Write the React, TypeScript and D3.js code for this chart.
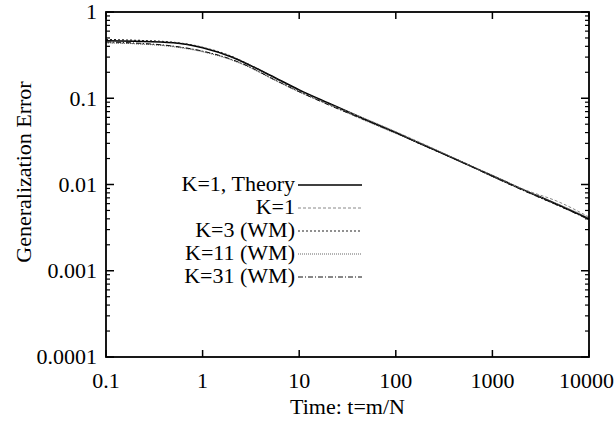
import React from "react";
import * as d3 from "d3";

const times = [0.1, 0.2, 0.5, 1, 2, 3, 5, 10, 20, 50, 100, 200, 500, 1000, 2000, 5000, 10000];
const theory = [0.465, 0.458, 0.44, 0.385, 0.3, 0.245, 0.185, 0.125, 0.088, 0.056, 0.04, 0.0283, 0.0179, 0.0126, 0.0089, 0.0057, 0.004];
const k1 = [0.44, 0.43, 0.4, 0.35, 0.28, 0.233, 0.175, 0.12, 0.086, 0.057, 0.041, 0.029, 0.018, 0.0128, 0.009, 0.0062, 0.0042];
const k3 = [0.48, 0.47, 0.445, 0.39, 0.305, 0.247, 0.184, 0.123, 0.087, 0.055, 0.04, 0.028, 0.018, 0.0125, 0.0088, 0.0056, 0.004];
const k11 = [0.44, 0.428, 0.395, 0.345, 0.277, 0.23, 0.172, 0.118, 0.085, 0.054, 0.039, 0.0285, 0.018, 0.0123, 0.0088, 0.0058, 0.0041];
const k31 = [0.45, 0.437, 0.402, 0.352, 0.282, 0.234, 0.174, 0.119, 0.084, 0.055, 0.0395, 0.028, 0.0178, 0.0124, 0.0087, 0.0056, 0.0039];

const xTicks = [0.1, 1, 10, 100, 1000, 10000];
const xTickLabels = ["0.1", "1", "10", "100", "1000", "10000"];
const yTicks = [1, 0.1, 0.01, 0.001, 0.0001];
const yTickLabels = ["1", "0.1", "0.01", "0.001", "0.0001"];

const seriesNames = ["K=1, Theory", "K=1", "K=3 (WM)", "K=11 (WM)", "K=31 (WM)"];
const seriesValues = [theory, k1, k3, k11, k31];
const seriesStyles = [
  { stroke: "#000", dash: "", width: 1.6 },
  { stroke: "#888", dash: "3,2", width: 1 },
  { stroke: "#222", dash: "2,2", width: 1.2 },
  { stroke: "#666", dash: "1,1", width: 1 },
  { stroke: "#111", dash: "5,2,1,2", width: 1 },
];

const W = 616, H = 422;
const L = 106, R = 589, T = 12, B = 357;
const FONT = "'Liberation Serif', 'DejaVu Serif', serif";
const FS = 22;

export default function App() {
  const x = d3.scaleLog().domain([0.1, 10000]).range([L, R]);
  const y = d3.scaleLog().domain([0.0001, 1]).range([B, T]);
  const line = d3
    .line<[number, number]>()
    .x((d) => x(d[0]))
    .y((d) => y(d[1]))
    .curve(d3.curveMonotoneX);

  const minor: number[] = [];
  for (let e = -4; e < 0; e++) {
    for (let m = 2; m <= 9; m++) minor.push(m * Math.pow(10, e));
  }

  const legendY0 = 185, legendDy = 23;
  return (
    <svg width={W} height={H} fontFamily={FONT} fontSize={FS} style={{ display: "block", position: "absolute", left: 0, top: 0, background: "#fff" }}>
      <rect x={0} y={0} width={W} height={H} fill="#fff" />
      {seriesValues.map((vals, i) => (
        <path
          key={i}
          d={line(times.map((t, j) => [t, vals[j]] as [number, number])) || ""}
          fill="none"
          stroke={seriesStyles[i].stroke}
          strokeWidth={seriesStyles[i].width}
          strokeDasharray={seriesStyles[i].dash}
        />
      ))}
      <rect x={L} y={T} width={R - L} height={B - T} fill="none" stroke="#000" strokeWidth={1.8} />
      {xTicks.map((t, i) => {
        const halfW = (xTickLabels[i].length * 0.5 * FS) / 2;
        const lx = Math.min(x(t), W - 2 - halfW);
        return (
          <g key={"x" + i}>
            <line x1={x(t)} x2={x(t)} y1={B} y2={B - 7} stroke="#000" strokeWidth={1.5} />
            <line x1={x(t)} x2={x(t)} y1={T} y2={T + 7} stroke="#000" strokeWidth={1.5} />
            <text x={lx} y={388} textAnchor="middle">
              {xTickLabels[i]}
            </text>
          </g>
        );
      })}
      {yTicks.map((t, i) => (
        <g key={"y" + i}>
          <line x1={L} x2={L + 8} y1={y(t)} y2={y(t)} stroke="#000" strokeWidth={1.5} />
          <line x1={R} x2={R - 8} y1={y(t)} y2={y(t)} stroke="#000" strokeWidth={1.5} />
          <text x={97} y={y(t)} dy="0.33em" textAnchor="end">
            {yTickLabels[i]}
          </text>
        </g>
      ))}
      {minor.map((t, i) => (
        <g key={"m" + i}>
          <line x1={L} x2={L + 4} y1={y(t)} y2={y(t)} stroke="#000" strokeWidth={1.2} />
          <line x1={R} x2={R - 4} y1={y(t)} y2={y(t)} stroke="#000" strokeWidth={1.2} />
        </g>
      ))}
      <text x={(L + R) / 2} y={414} textAnchor="middle">
        Time: t=m/N
      </text>
      <text transform={`translate(31, 172) rotate(-90)`} textAnchor="middle">
        Generalization Error
      </text>
      {seriesNames.map((name, i) => (
        <g key={"l" + i}>
          <text x={295} y={legendY0 + i * legendDy} dy="0.28em" textAnchor="end">
            {name}
          </text>
          <line
            x1={298}
            x2={362}
            y1={legendY0 + i * legendDy}
            y2={legendY0 + i * legendDy}
            stroke={seriesStyles[i].stroke}
            strokeWidth={seriesStyles[i].width}
            strokeDasharray={seriesStyles[i].dash}
          />
        </g>
      ))}
    </svg>
  );
}
